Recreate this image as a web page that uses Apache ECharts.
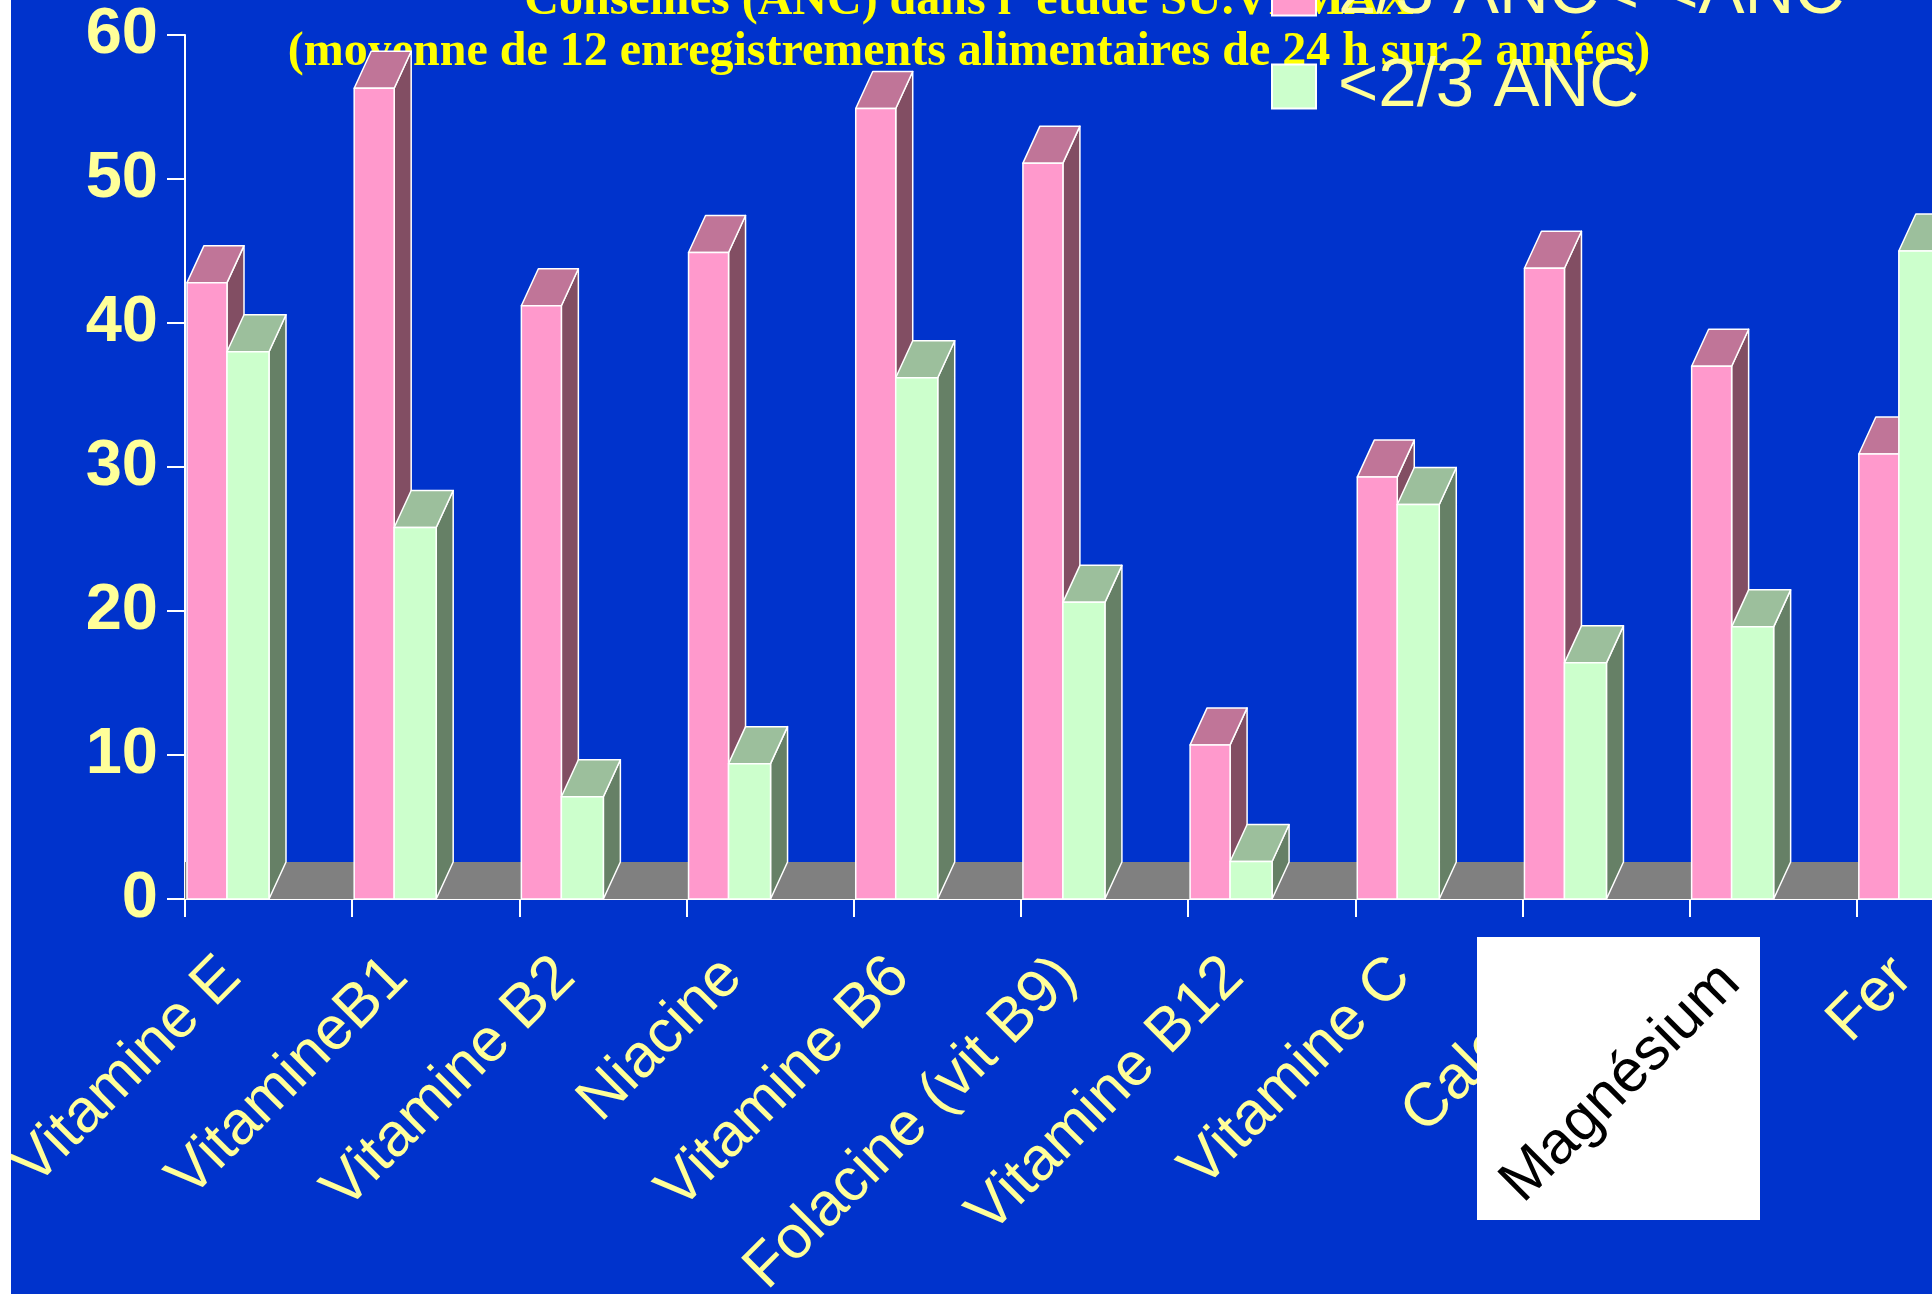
<!DOCTYPE html>
<html>
<head>
<meta charset="utf-8">
<script src="https://cdn.jsdelivr.net/npm/echarts@6/dist/echarts.min.js"></script>
<style>
  html, body { margin: 0; padding: 0; background: #ffffff; }
  #chart { width: 1932px; height: 1294px; }
</style>
</head>
<body>
<div id="chart"></div>
<script>
// ---- data ----
var categories = ['Vitamine E', 'VitamineB1', 'Vitamine B2', 'Niacine', 'Vitamine B6',
  'Folacine (vit B9)', 'Vitamine B12', 'Vitamine C', 'Calcium', 'Magnésium', 'Fer'];
var seriesNames = ['2/3 ANC< <ANC', '<2/3 ANC'];
var between23AndANC = [42.8, 56.3, 41.2, 44.9, 54.9, 51.1, 10.7, 29.3, 43.8, 37.0, 30.9];
var below23ANC = [38.0, 25.8, 7.1, 9.4, 36.2, 20.6, 2.6, 27.4, 16.4, 18.9, 45.0];
var yTicks = [0, 10, 20, 30, 40, 50, 60];
var titleLines = ['Conseillés (ANC) dans l\' étude SU.VI.MAX',
  '(moyenne de 12 enregistrements alimentaires de 24 h sur 2 années)'];
var overlayLabel = 'Magnésium';

// ---- styling ----
var DX = 17, DY = 37;
var pinkCols = { front: '#ff99cc', top: '#c07598', side: '#824e63' };
var greenCols = { front: '#ccffcc', top: '#9cbf9c', side: '#668066' };

function toData(arr) { return arr.map(function (v, i) { return [i, v]; }); }

function makeRender(offset, width, cols) {
  return function (params, api) {
    var idx = api.value(0), v = api.value(1);
    var top = api.coord([idx, v]);
    var base = api.coord([idx, 0]);
    var band = api.size([1, 0])[0];
    var start = top[0] - band / 2;
    var x0 = start + offset, x1 = x0 + width;
    var yv = top[1], y0 = base[1];
    var stroke = { stroke: '#ffffff', lineWidth: 1.5, lineJoin: 'round' };
    return {
      type: 'group',
      children: [
        { type: 'polygon', shape: { points: [[x1, yv], [x1 + DX, yv - DY], [x1 + DX, y0 - DY], [x1, y0]] },
          style: Object.assign({ fill: cols.side }, stroke) },
        { type: 'polygon', shape: { points: [[x0, yv], [x0 + DX, yv - DY], [x1 + DX, yv - DY], [x1, yv]] },
          style: Object.assign({ fill: cols.top }, stroke) },
        { type: 'rect', shape: { x: x0, y: yv, width: width, height: y0 - yv },
          style: Object.assign({ fill: cols.front }, stroke) }
      ]
    };
  };
}

var titleFont = 'bold 48px "Liberation Serif"';

var chart = echarts.init(document.getElementById('chart'), null, { renderer: 'canvas' });
var option = {
  backgroundColor: '#0033cc',
  animation: false,
  legend: {
    orient: 'vertical',
    left: 1271,
    top: -41,
    padding: 0,
    itemWidth: 44,
    itemHeight: 44,
    itemGap: 24,
    z: 5,
    textStyle: { color: '#ffff99', fontSize: 69, fontFamily: 'Liberation Sans', padding: [0, 0, 0, 17] },
    data: [
      { name: seriesNames[0], icon: 'rect', itemStyle: { color: pinkCols.front, borderColor: '#ffffff', borderWidth: 2 } },
      { name: seriesNames[1], icon: 'rect', itemStyle: { color: greenCols.front, borderColor: '#ffffff', borderWidth: 2 } }
    ]
  },
  grid: { left: 185, top: 35, width: 1839, height: 864, containLabel: false, outerBoundsMode: 'none' },
  xAxis: {
    type: 'category',
    data: categories,
    boundaryGap: true,
    axisLine: { lineStyle: { color: '#ffffff', width: 2 } },
    axisTick: { show: true, length: 18, lineStyle: { color: '#ffffff', width: 2 }, interval: 0 },
    axisLabel: {
      interval: 0, rotate: 45, margin: 31, color: '#ffff99',
      fontFamily: 'Liberation Sans', fontSize: 61, padding: [0, 53, 0, 0]
    },
    splitLine: { show: false }
  },
  yAxis: {
    type: 'value',
    min: yTicks[0], max: yTicks[yTicks.length - 1], interval: yTicks[1] - yTicks[0],
    axisLine: { show: true, lineStyle: { color: '#ffffff', width: 2 } },
    axisTick: { show: true, length: 18, lineStyle: { color: '#ffffff', width: 2 } },
    axisLabel: { color: '#ffff99', fontFamily: 'Liberation Sans', fontWeight: 'bold', fontSize: 65, margin: 27 },
    splitLine: { show: false }
  },
  series: [
    {
      type: 'custom', name: 'floor', silent: true, z: 1,
      data: [[0, 0]],
      renderItem: function (params, api) {
        var cs = params.coordSys;
        var y0 = api.coord([0, 0])[1];
        return { type: 'rect', shape: { x: cs.x, y: y0 - DY, width: cs.width, height: DY },
          style: { fill: '#808080' } };
      }
    },
    {
      type: 'custom', name: seriesNames[0], z: 2,
      itemStyle: { color: pinkCols.front },
      data: toData(between23AndANC),
      renderItem: makeRender(2, 40, pinkCols)
    },
    {
      type: 'custom', name: seriesNames[1], z: 3,
      itemStyle: { color: greenCols.front },
      data: toData(below23ANC),
      renderItem: makeRender(42, 42, greenCols)
    }
  ],
  graphic: [
    { type: 'text', x: 969, y: 2, z: 0,
      style: { text: titleLines[0], fill: '#ffff00', font: titleFont, textAlign: 'center', textVerticalAlign: 'middle' } },
    { type: 'text', x: 969, y: 53, z: 0,
      style: { text: titleLines[1], fill: '#ffff00', font: titleFont, textAlign: 'center', textVerticalAlign: 'middle' } },
    { type: 'rect', shape: { x: 0, y: 0, width: 11, height: 1294 }, style: { fill: '#ffffff' }, z: 100 },
    { type: 'rect', shape: { x: 1477, y: 937, width: 283, height: 283 }, style: { fill: '#ffffff' }, z: 100 },
    { type: 'text', x: 1621, y: 1083, rotation: Math.PI / 4, z: 101,
      style: { text: overlayLabel, fill: '#000000', font: '60px "Liberation Sans"', textAlign: 'center', textVerticalAlign: 'middle' } }
  ]
};
chart.setOption(option);
</script>
</body>
</html>
